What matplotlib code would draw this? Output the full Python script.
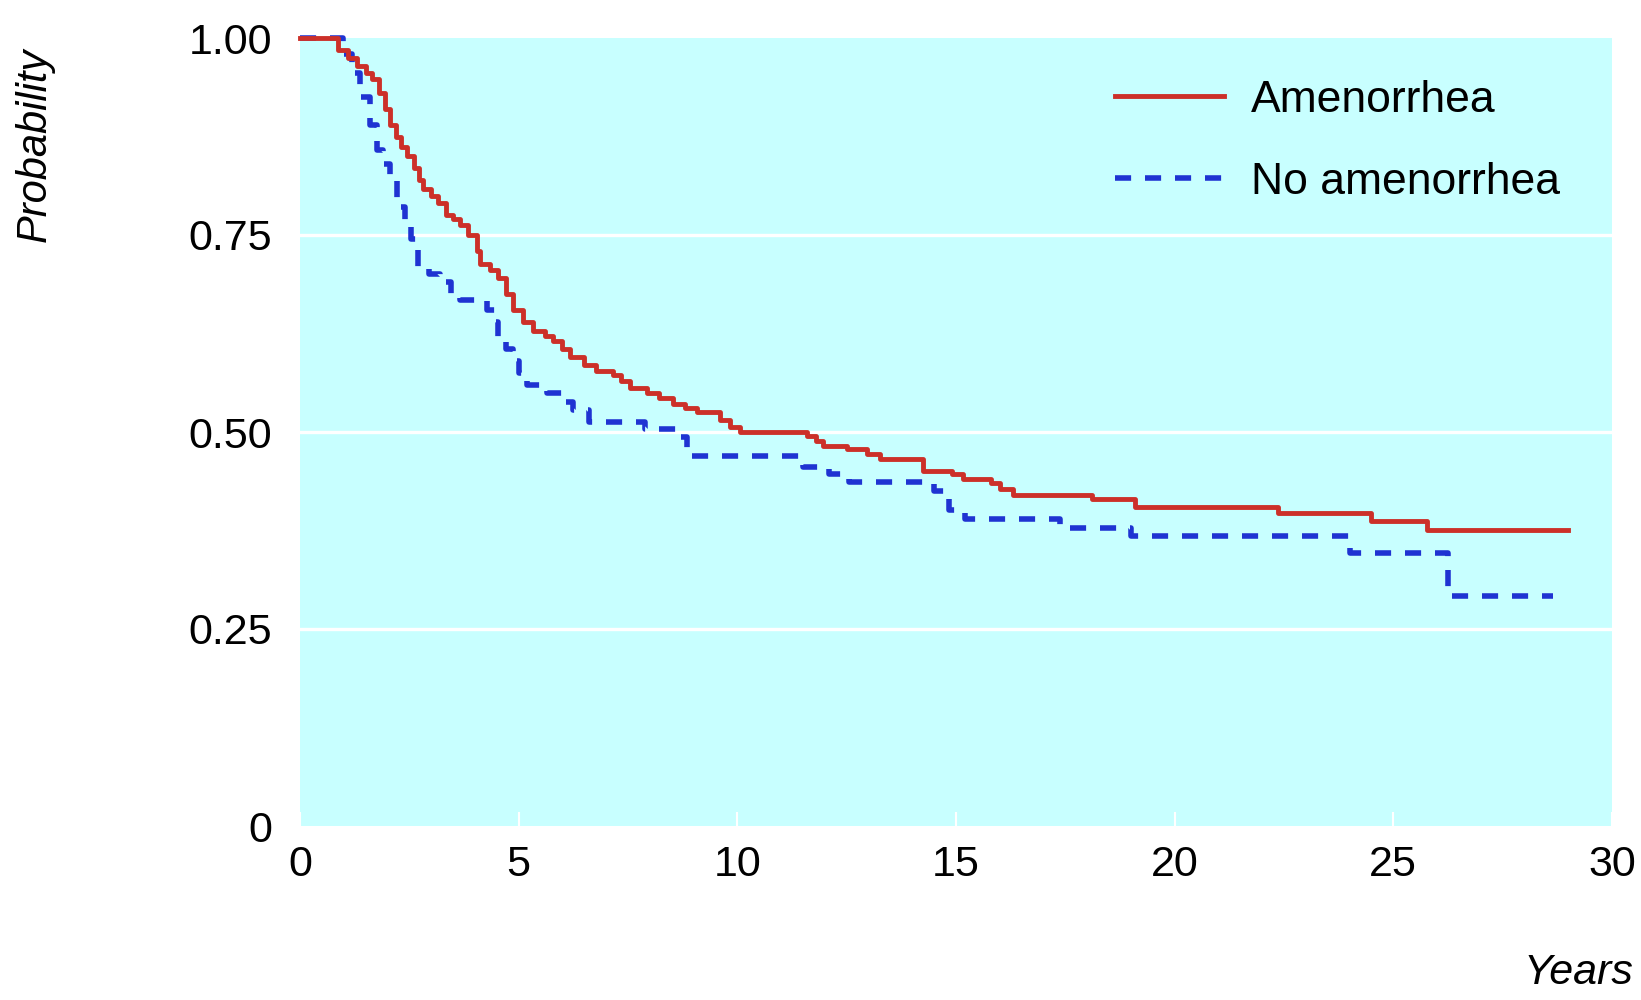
import matplotlib
matplotlib.use("Agg")
import matplotlib.pyplot as plt
from matplotlib import font_manager

# Kaplan-Meier style step data (years, probability)
amen_t = [0, 0.87, 1.1, 1.3, 1.5, 1.64, 1.8, 1.95, 2.06, 2.2, 2.32, 2.44, 2.6, 2.72, 2.82,
          3.0, 3.15, 3.35, 3.5, 3.66, 3.85, 4.04, 4.12, 4.35, 4.53, 4.7, 4.88, 5.1, 5.33,
          5.6, 5.79, 6.0, 6.17, 6.5, 6.78, 7.16, 7.35, 7.55, 7.93, 8.2, 8.53, 8.8, 9.07,
          9.6, 9.83, 10.06, 11.59, 11.8, 11.96, 12.5, 12.96, 13.26, 14.25, 14.9, 15.17,
          15.8, 16.0, 16.3, 18.1, 19.1, 22.37, 24.5, 25.76, 29.0]
amen_p = [1.0, 0.985, 0.975, 0.965, 0.955, 0.948, 0.93, 0.91, 0.89, 0.875, 0.862, 0.85,
          0.835, 0.82, 0.808, 0.8, 0.79, 0.775, 0.77, 0.763, 0.75, 0.73, 0.713, 0.705,
          0.695, 0.675, 0.655, 0.64, 0.628, 0.622, 0.615, 0.605, 0.595, 0.585, 0.578,
          0.572, 0.565, 0.556, 0.55, 0.543, 0.535, 0.53, 0.525, 0.515, 0.506, 0.5, 0.495,
          0.488, 0.482, 0.478, 0.472, 0.466, 0.45, 0.447, 0.44, 0.435, 0.428, 0.42, 0.415,
          0.405, 0.397, 0.387, 0.376, 0.376]

noamen_t = [0, 0.99, 1.2, 1.37, 1.6, 1.75, 1.9, 2.06, 2.21, 2.4, 2.55, 2.7, 2.95, 3.2,
            3.45, 3.66, 4.27, 4.45, 4.53, 4.7, 4.88, 5.0, 5.18, 5.64, 6.0, 6.25, 6.6, 7.9,
            8.61, 8.85, 11.5, 12.1, 12.55, 14.5, 14.85, 15.2, 17.38, 19.0, 24.0, 26.25, 28.66]
noamen_p = [1.0, 0.98, 0.955, 0.925, 0.89, 0.858, 0.84, 0.82, 0.786, 0.765, 0.745, 0.71,
            0.70, 0.69, 0.675, 0.667, 0.655, 0.64, 0.62, 0.605, 0.59, 0.575, 0.56, 0.549,
            0.538, 0.528, 0.513, 0.504, 0.494, 0.469, 0.455, 0.447, 0.436, 0.425, 0.401,
            0.39, 0.378, 0.368, 0.347, 0.292, 0.292]

series_labels = ["Amenorrhea", "No amenorrhea"]
x_ticks = [0, 5, 10, 15, 20, 25, 30]
y_ticks = [0, 0.25, 0.5, 0.75, 1.0]
y_tick_labels = ["0", "0.25", "0.50", "0.75", "1.00"]

plt.rcParams['font.family'] = ['Liberation Sans', 'DejaVu Sans']
names = {f.name for f in font_manager.fontManager.ttflist}
TICK_FAMILY = ['Liberation Sans Narrow', 'Liberation Sans'] if 'Liberation Sans Narrow' in names \
    else ['Liberation Sans', 'DejaVu Sans']
TICK_FS = 38 if 'Liberation Sans Narrow' in names else 31
FS = 32

fig = plt.figure(figsize=(16.41, 10), dpi=100)
ax = fig.add_axes([0.1828, 0.174, 0.7995, 0.788])
ax.set_facecolor('#C8FFFF')
for s in ax.spines.values():
    s.set_visible(False)

ax.set_xlim(0, 30)
ax.set_ylim(0, 1)

for y in [0.25, 0.5, 0.75]:
    ax.axhline(y, color='white', lw=2.4, zorder=1)

ax.plot(noamen_t, noamen_p, drawstyle='steps-post', color='#1F33D2', lw=4.0,
        dashes=(2.9, 2.5), label=series_labels[1], zorder=3, clip_on=False)
ax.plot(amen_t, amen_p, drawstyle='steps-post', color='#CC3029', lw=3.5,
        label=series_labels[0], zorder=4, clip_on=False)

ax.set_xticks(x_ticks)
ax.set_xticklabels([str(v) for v in x_ticks], fontsize=TICK_FS, family=TICK_FAMILY)
ax.set_yticks(y_ticks)
ax.set_yticklabels(y_tick_labels, fontsize=TICK_FS, family=TICK_FAMILY)
ax.tick_params(axis='x', direction='in', length=10, width=1.5, color='white', pad=14)
ax.tick_params(axis='y', length=0, pad=20)

handles, labels = ax.get_legend_handles_labels()
order = [1, 0]
leg = ax.legend([handles[i] for i in order], [labels[i] for i in order],
                loc='upper left', bbox_to_anchor=(0.621, 0.947), frameon=False,
                fontsize=FS, handlelength=2.45, handletextpad=0.62, labelspacing=0.92,
                borderpad=0, borderaxespad=0)

fig.text(35 / 1641, 1 - 145 / 1000, "Probability", rotation=90, fontsize=30,
         style='italic', ha='center', va='center')
fig.text(1633 / 1641, 1 - 973 / 1000, "Years", fontsize=31, style='italic',
         ha='right', va='center')

fig.savefig("out.png", dpi=100)
